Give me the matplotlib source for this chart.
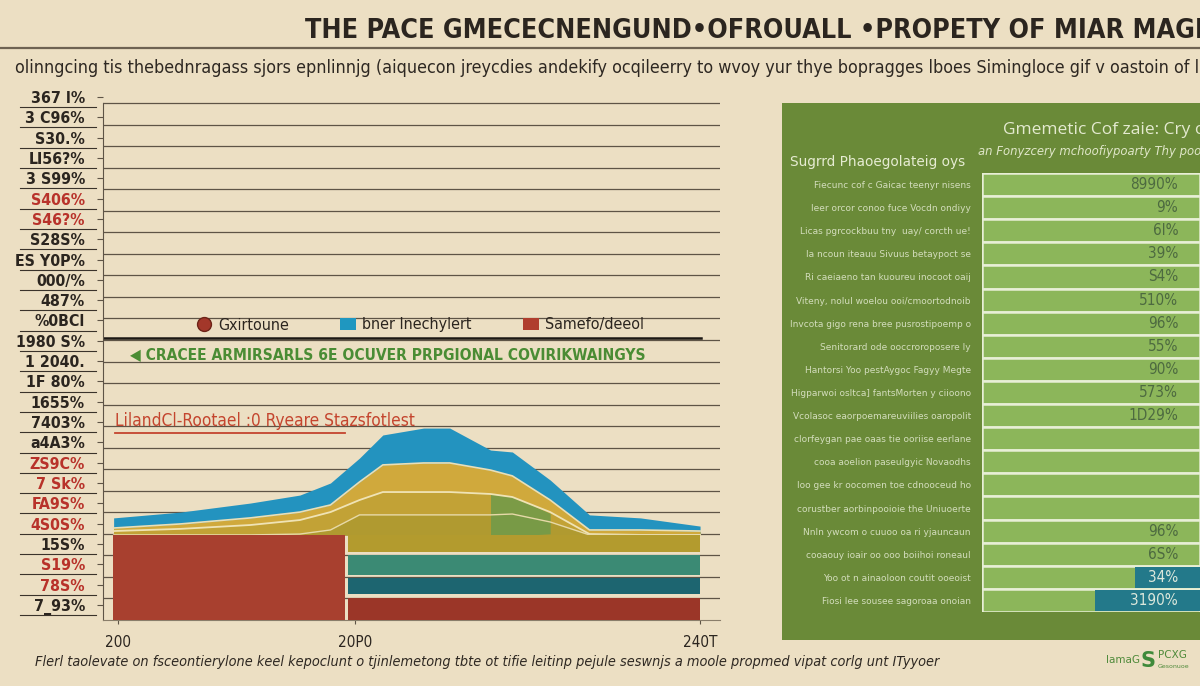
import numpy as np
import matplotlib
matplotlib.use("Agg")
import matplotlib.pyplot as plt
from matplotlib import font_manager as fm
from matplotlib.patches import Rectangle, Patch
from matplotlib.lines import Line2D
from matplotlib.transforms import blended_transform_factory

# ---------------- data ----------------
title = "THE PACE GMECECNENGUND\u2022OFROUALL \u2022PROPETY OF MIAR MAGE"
subtitle = ("olinngcing tis thebednragass sjors epnlinnjg (aiquecon jreycdies andekify ocqileerry "
            "to wvoy yur thye bopragges lboes Simingloce gif v oastoin of la")
footer = ("Flerl taolevate on fsceontierylone keel kepoclunt o tjinlemetong tbte ot tifie leitinp "
          "pejule seswnjs a moole propmed vipat corlg unt ITyyoer")

ytick_labels = ["367 l%", "3 C96%", "S30.%", "LI56?%", "3 S99%", "S406%", "S46?%", "S28S%",
                "ES Y0P%", "000/%", "487%", "%0BCl", "1980 S%", "1 2040.", "1F 80%", "1655%",
                "7403%", "a4A3%", "ZS9C%", "7 Sk%", "FA9S%", "4S0S%", "15S%", "S19%", "78S%",
                "7_93%"]
ytick_red = [5, 6, 18, 19, 20, 21, 23, 24]

xtick_years = [2000, 2016.3, 2040]
xtick_labels = ["200", "20P0", "240T"]

area_years = [1999.7, 2004.3, 2009.1, 2012.5, 2014.6, 2016.6, 2018.2, 2021.0,
              2022.8, 2025.6, 2027.1, 2029.7, 2032.4, 2035.9, 2040.0]
blue_top = [4.74, 5.01, 5.43, 5.80, 6.36, 7.52, 8.59, 8.91, 8.91, 7.89, 7.80, 6.50, 4.88, 4.74, 4.36]
yellow_top = [4.27, 4.46, 4.74, 5.01, 5.34, 6.41, 7.20, 7.29, 7.29, 6.96, 6.69, 5.57, 4.18, 4.18, 4.13]
mid_top = [4.13, 4.23, 4.41, 4.64, 5.01, 5.57, 5.94, 5.94, 5.94, 5.85, 5.71, 5.01, 3.99, 3.95, 3.95]
olive_top = [3.95, 3.95, 3.95, 3.99, 4.18, 4.88, 4.88, 4.88, 4.88, 4.88, 4.92, 4.55, 3.95, 3.95, 3.95]
base_level = 3.95
patch_years = [2025.6, 2027.1, 2028.4, 2029.7]
patch_low = [3.95, 3.95, 3.95, 4.0]
patch_high = [5.85, 5.71, 5.35, 4.95]

block_start, block_end = 1999.66, 2015.6
stripe_start, stripe_end = 2015.8, 2040.0
stripe_bottoms = [0.0, 1.21, 2.09, 3.16]
stripe_heights = [1.02, 0.74, 0.93, 0.79]

legend_labels = ["Gxirtoune", "bner Inechylert", "Samefo/deeol"]
heading_green = "\u25C0 CRACEE ARMIRSARLS 6E OCUVER PRPGIONAL COVIRIKWAINGYS"
heading_red = "LilandCl-Rootael :0 Ryeare Stazsfotlest"

panel_title = "Gmemetic Cof zaie: Cry o\u00fc"
panel_sub = "an Fonyzcery mchoofiypoarty Thy poog"
panel_head = "Sugrrd Phaoegolateig oys"
row_labels = ["Fiecunc cof c Gaicac teenyr nisens", "Ieer orcor conoo fuce Vocdn ondiyy",
              "Licas pgrcockbuu tny  uay/ corcth ue!", "Ia ncoun iteauu Sivuus betaypoct se",
              "Ri caeiaeno tan kuoureu inocoot oaij", "Viteny, nolul woelou ooi/cmoortodnoib",
              "Invcota gigo rena bree pusrostipoemp o", "Senitorard ode ooccroroposere ly",
              "Hantorsi Yoo pestAygoc Fagyy Megte", "Higparwoi osltca] fantsMorten y ciioono",
              "Vcolasoc eaorpoemareuviilies oaropolit", "clorfeygan pae oaas tie ooriise eerlane",
              "cooa aoelion paseulgyic Novaodhs", "Ioo gee kr oocomen toe cdnooceud ho",
              "corustber aorbinpooioie the Uniuoerte", "Nnln ywcom o cuuoo oa ri yjauncaun",
              "cooaouy ioair oo ooo boiihoi roneaul", "Yoo ot n ainaoloon coutit ooeoist",
              "Fiosi lee sousee sagoroaa onoian"]
row_full = [100, 100, 100, 100, 100, 100, 100, 100, 100, 100, 100, 100, 100, 100, 100, 100, 100, 100, 100]
row_values = ["8990%", "9%", "6l%", "39%", "S4%", "510%", "96%", "55%", "90%", "573%", "1D29%",
              "", "", "", "", "96%", "6S%", "34%", "3190%"]
teal_rows = [17, 18]
teal_values = [30, 48]

# ---------------- fonts ----------------
_cond = None
for f in fm.fontManager.ttflist:
    if ("Narrow" in f.name or "Condensed" in f.name or
            str(f.stretch) in ("condensed", "semi-condensed", "extra-condensed")):
        _cond = f
        break
if _cond is not None:
    NARROW = [_cond.name, "DejaVu Sans"]
    STRETCH = _cond.stretch
else:
    NARROW = ["Liberation Sans", "DejaVu Sans"]
    STRETCH = "normal"

BG = "#ecdfc3"
DARK = "#2b251f"
plt.rcParams["font.family"] = ["DejaVu Sans"]

fig = plt.figure(figsize=(12, 6.86), dpi=100)
fig.patch.set_facecolor(BG)
H = 686.0
renderer = fig.canvas.get_renderer()


def fy(py):
    return 1 - py / H


def fit(t, width_px):
    bb = t.get_window_extent(renderer)
    if bb.width > 0:
        t.set_fontsize(t.get_fontsize() * width_px / bb.width)


# header
t = fig.text(305 / 1200, fy(31), title, fontsize=22, fontweight="bold", family=NARROW,
             fontstretch=STRETCH, color=DARK, va="center", ha="left")
fit(t, 902)
fig.add_artist(Line2D([0, 1], [fy(48), fy(48)], color="#6e6252", lw=1.6))
t = fig.text(15 / 1200, fy(68), subtitle, fontsize=13.5, family=NARROW, fontstretch=STRETCH,
             color="#2e2822", va="center", ha="left")
fit(t, 1192)
t = fig.text(35 / 1200, fy(662), footer, fontsize=11, family=NARROW, fontstretch=STRETCH,
             style="italic", color="#2e2822", va="center", ha="left")
fit(t, 905)

# ---------------- main chart ----------------
ax = fig.add_axes([103 / 1200, 1 - 620 / H, 617 / 1200, (620 - 94.4) / H])
ax.set_facecolor("none")
ax.set_xlim(1998.97, 2041.37)
ax.set_ylim(0, 24.4)

ax.set_yticks(np.arange(1, 25), minor=True)
ax.grid(True, which="minor", axis="y", color="#5e5446", lw=0.9)
ax.tick_params(axis="y", which="minor", length=0)
ax.axhline(13.1, xmin=0, xmax=0.97, color="#1c1814", lw=1.8)

ypos = np.linspace(24.28, 0.70, len(ytick_labels))
ax.set_yticks(ypos)
ax.set_yticklabels(ytick_labels, family=NARROW, fontstretch=STRETCH, fontsize=12.5,
                   fontweight="bold")
tl = ax.get_yticklabels()
wmax = max(x.get_window_extent(renderer).width for x in tl)
for i, x in enumerate(tl):
    x.set_color("#b8322a" if i in ytick_red else DARK)
    x.set_fontsize(12.5 * 70 / wmax)
ax.tick_params(axis="y", which="major", length=4, width=0.8, color="#5e5446", pad=9)
trans = blended_transform_factory(ax.transAxes, ax.transData)
for p in ypos:
    ax.plot([-0.135, -0.012], [p - 0.47, p - 0.47], transform=trans, color="#3a332b",
            lw=0.8, clip_on=False)

ax.set_xticks(xtick_years)
ax.set_xticklabels(xtick_labels, family=NARROW, fontstretch=STRETCH, fontsize=11, color=DARK)
ax.tick_params(axis="x", length=3, color="#5e5446", pad=8)

for s in ["top", "right"]:
    ax.spines[s].set_visible(False)
ax.spines["left"].set_bounds(0, 24)
ax.spines["left"].set_color("#5e5446")
ax.spines["bottom"].set_color("#8a7e6a")
ax.spines["bottom"].set_linewidth(0.8)

# stacked areas
ax.fill_between(area_years, base_level, blue_top, color="#2393bf", lw=0, zorder=3)
ax.fill_between(area_years, base_level, yellow_top, color="#d0a93c", lw=0, zorder=4)
ax.fill_between(area_years, base_level, mid_top, color="#c2a236", lw=0, zorder=5)
ax.fill_between(area_years, base_level, olive_top, color="#b09a30", lw=0, zorder=6)
ax.fill_between(patch_years, patch_low, patch_high, color="#6f9a4a", alpha=0.85, lw=0, zorder=6.5)
ax.plot(area_years, yellow_top, color="#e9dfb8", lw=1.2, zorder=7)
ax.plot(area_years, mid_top, color="#efe3b5", lw=1.3, zorder=7)
ax.plot(area_years, olive_top, color="#e6d9a8", lw=1.0, zorder=7)

ax.bar(block_start, base_level, width=block_end - block_start, align="edge",
       color="#a8402f", lw=0, zorder=8)
stripe_colors = ["#9b3628", "#1d6570", "#3b8a74", "#b39b2e"]
ax.bar([stripe_start] * 4, stripe_heights, bottom=stripe_bottoms,
       width=stripe_end - stripe_start, align="edge", color=stripe_colors, lw=0, zorder=8)

# legend
handles = [Line2D([], [], marker="o", ls="none", markersize=10, markerfacecolor="#a3372a",
                  markeredgecolor="#6e2418"),
           Patch(facecolor="#1f97c0"), Patch(facecolor="#b03e2e")]
leg = ax.legend(handles, legend_labels, ncol=3, loc="center", frameon=False,
                bbox_to_anchor=((420 - 103) / 617, (620 - 325) / 525.6),
                prop={"family": NARROW, "stretch": STRETCH, "size": 11.5}, columnspacing=3.2,
                handlelength=1.0, handletextpad=0.4)
for x in leg.get_texts():
    x.set_color(DARK)

t = ax.text((130 - 103) / 617, (620 - 355) / 525.6, heading_green, transform=ax.transAxes,
            fontsize=14, fontweight="bold", family=NARROW, fontstretch=STRETCH,
            color="#4a8c34", va="center", ha="left")
fit(t, 520)
t = ax.text((115 - 103) / 617, (620 - 421) / 525.6, heading_red, transform=ax.transAxes,
            fontsize=13.5, family=NARROW, fontstretch=STRETCH, color="#c4452e",
            va="center", ha="left")
fit(t, 300)
ax.plot([(115 - 103) / 617, (345 - 103) / 617], [(620 - 433) / 525.6] * 2,
        transform=ax.transAxes, color="#c4452e", lw=1.3, clip_on=False)

# ---------------- right panel ----------------
fig.add_artist(Rectangle((782 / 1200, 1 - 640 / H), 0.36, 537 / H, transform=fig.transFigure,
                         facecolor="#6a8a38", edgecolor="none", zorder=0))
fig.text(1003 / 1200, fy(130), panel_title, fontsize=12.5, color="#e4ead0", va="center",
         ha="left", family=["Open Sans", "DejaVu Sans"])
t = fig.text(978 / 1200, fy(152), panel_sub, fontsize=7.5, style="italic", color="#dfe6c8",
             va="center", ha="left")
fit(t, 230)
t = fig.text(790 / 1200, fy(162), panel_head, fontsize=10.5, color="#e6ecd2", va="center",
             ha="left")
fit(t, 176)

ax2 = fig.add_axes([982 / 1200, 1 - 612 / H, 218 / 1200, 439 / H])
ax2.set_facecolor("none")
rows = np.arange(len(row_labels))
ax2.barh(rows, row_full, height=1.0, color="#8cb65a", edgecolor="#e8efd6", lw=1.8)
ax2.barh(teal_rows, teal_values, left=[100 - v for v in teal_values], height=0.9,
         color="#23798a", lw=0)
for i, v in enumerate(row_values):
    if v:
        col = "#dce8dc" if i in teal_rows else "#4d6a40"
        ax2.text(90, i, v, ha="right", va="center", fontsize=11, color=col,
                 family=NARROW, fontstretch=STRETCH)
ax2.set_xlim(0, 100)
ax2.set_ylim(len(row_labels) - 0.5, -0.5)
ax2.set_yticks(rows)
ax2.set_yticklabels(row_labels, fontsize=7.3, color="#d3ddbc")
rl = ax2.get_yticklabels()
rmax = max(x.get_window_extent(renderer).width for x in rl)
for x in rl:
    x.set_fontsize(7.3 * 180 / rmax)
ax2.tick_params(axis="y", length=0, pad=8)
ax2.set_xticks([])
for s in ax2.spines.values():
    s.set_visible(False)

# logo
fig.text(1106 / 1200, fy(660), "lamaG", fontsize=7.5, color="#4f8a3a", va="center", ha="left")
fig.text(1141 / 1200, fy(661), "S", fontsize=15, fontweight="bold", color="#3f8a3a",
         va="center", ha="left")
fig.text(1158 / 1200, fy(655), "PCXG", fontsize=7.5, color="#4f8a3a", va="center", ha="left")
fig.text(1158 / 1200, fy(667), "Gesonuoe", fontsize=4.5, color="#4f8a3a", va="center", ha="left")

fig.savefig("out.png", dpi=100, facecolor=BG)
